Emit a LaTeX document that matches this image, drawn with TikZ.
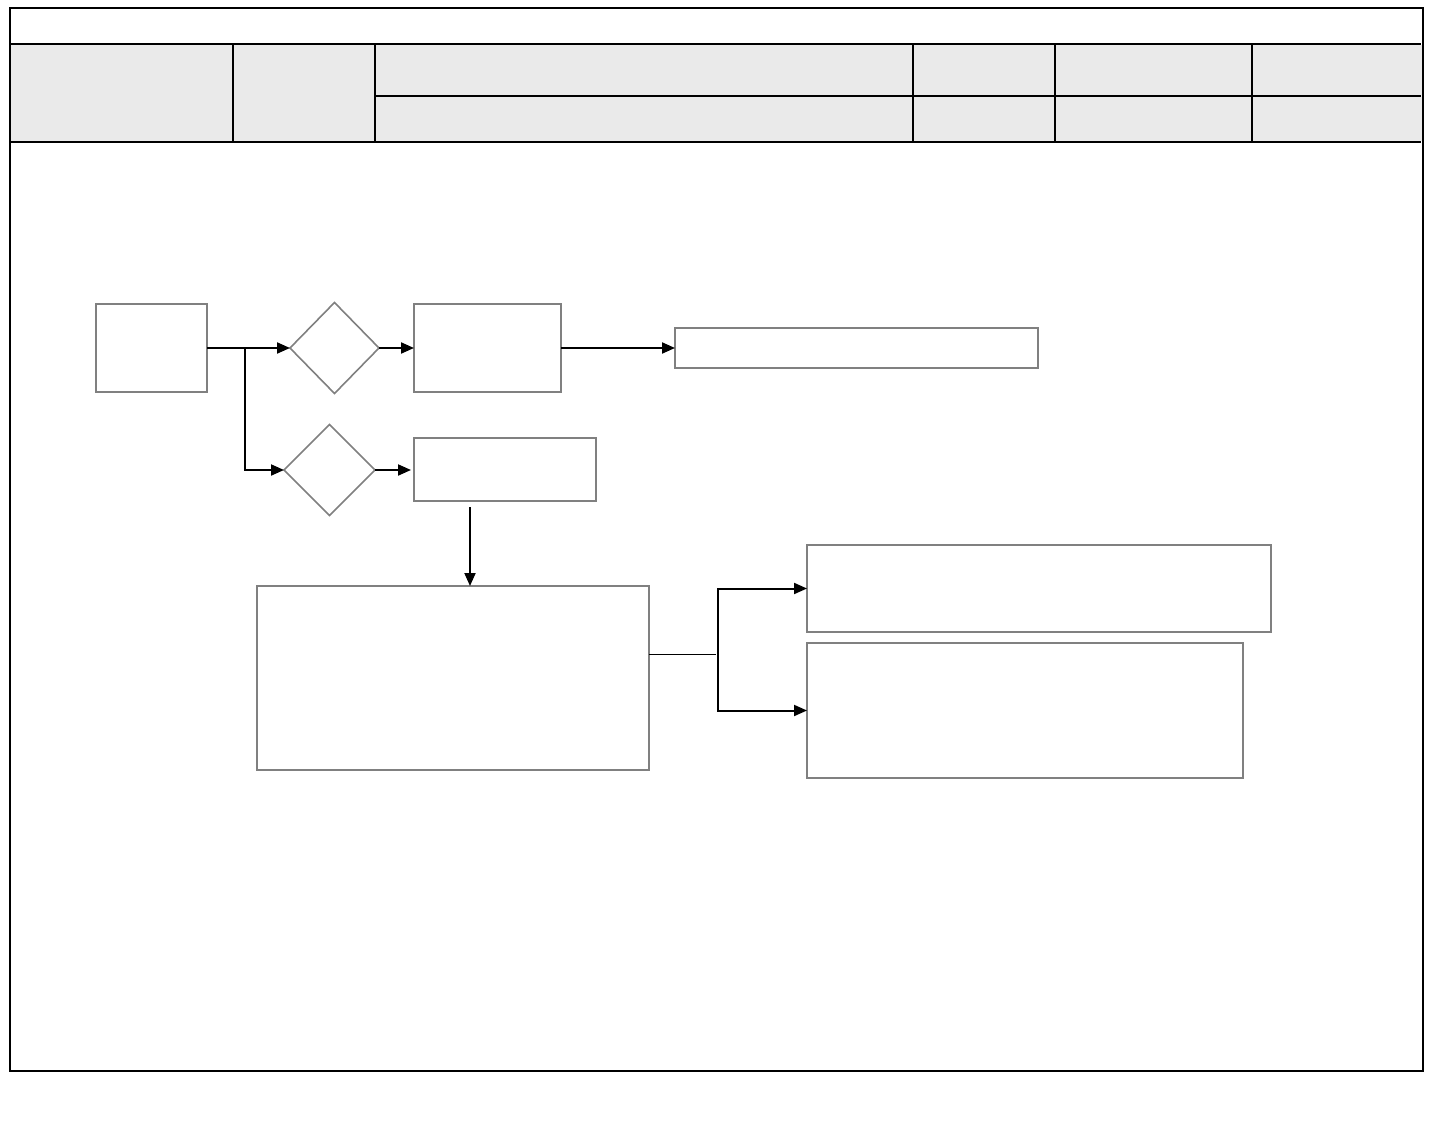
\documentclass[tikz,border=0pt]{standalone}
\usetikzlibrary{arrows.meta,shapes.geometric}
\definecolor{hdrgray}{HTML}{EAEAEA}
\definecolor{boxgray}{HTML}{808080}
\tikzset{
  flowbox/.style={draw=boxgray,line width=1.6pt,fill=white,inner sep=0pt,outer sep=0pt,rectangle},
  flowdia/.style={draw=boxgray,line width=1.6pt,fill=white,inner sep=0pt,outer sep=0pt,diamond},
  arr/.style={line width=2pt,-{Triangle[length=13pt,width=11pt]}},
  thinline/.style={line width=1pt},
  frame/.style={line width=2.5pt},
}
\begin{document}
\begin{tikzpicture}[x=1pt,y=-1pt]
\useasboundingbox (0,0) rectangle (1441,1124);
% header
\fill[hdrgray] (10,45) rectangle (1422,141);
\draw[frame] (10,8) rectangle (1423,1071);
\draw[frame] (10,44) -- (1421,44);
\draw[frame] (10,142) -- (1421,142);
\draw[frame] (375,96) -- (1421,96);
\draw[frame] (233,44) -- (233,142);
\draw[frame] (375,44) -- (375,142);
\draw[frame] (913,44) -- (913,142);
\draw[frame] (1055,44) -- (1055,142);
\draw[frame] (1252,44) -- (1252,142);
% nodes
\node[flowbox,minimum width=111,minimum height=88] (A) at (151.5,348) {};
\node[flowdia,minimum width=89,minimum height=91] (D1) at (334.5,348) {};
\node[flowbox,minimum width=147,minimum height=88] (B) at (487.5,348) {};
\node[flowbox,minimum width=363,minimum height=40] (C) at (856.5,348) {};
\node[flowdia,minimum width=91,minimum height=91] (D2) at (329.5,470) {};
\node[flowbox,minimum width=182,minimum height=63] (E) at (505,469.5) {};
\node[flowbox,minimum width=392,minimum height=184] (F) at (453,678) {};
\node[flowbox,minimum width=464,minimum height=87] (G) at (1039,588.5) {};
\node[flowbox,minimum width=436,minimum height=135] (H) at (1025,710.5) {};
% connectors
\coordinate (sp) at (245,348);
\draw[arr] (A.east) -- (D1.west);
\draw[arr] (sp) |- (D2.west);
\draw[arr] (D1.east) -- (B.west);
\draw[arr] (B.east) -- (C.west);
\draw[arr] (D2.east) -- ([xshift=-3pt]E.west |- D2.east);
\coordinate (e1) at (470,507);
\draw[arr] (e1) -- (e1 |- F.north);
\coordinate (f1) at (649,654);
\coordinate (j) at (718,654);
\draw[thinline] (f1) -- (716,654);
\draw[arr] (j) |- (G.west);
\draw[arr] (j) |- (H.west);
\end{tikzpicture}
\end{document}
